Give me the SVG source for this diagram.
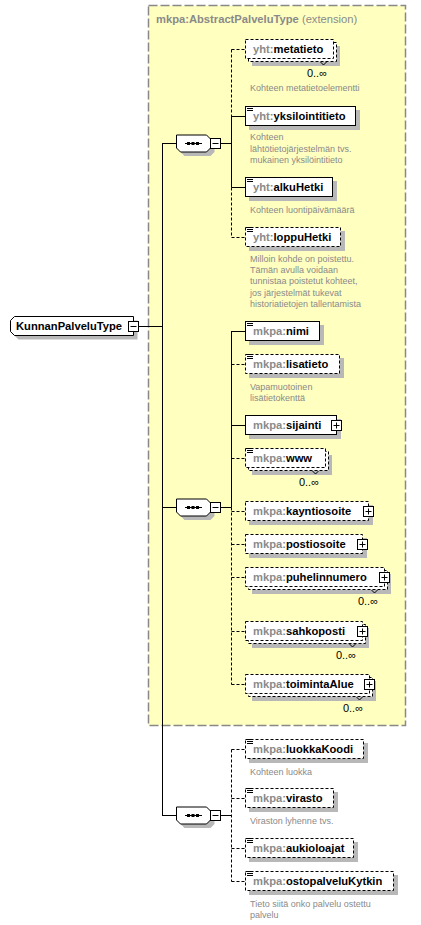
<svg xmlns="http://www.w3.org/2000/svg" width="421" height="925" viewBox="0 0 421 925">
<style>
text{font-family:"Liberation Sans",Arial,sans-serif}
.nm{font-size:11.2px;font-weight:bold;fill:#000}
.pf{fill:#8a8a8a}
.ann{font-size:9px;fill:#8a8a8a}
.mul{font-size:11px;fill:#000;text-anchor:end}
.box{fill:#fff;stroke:#000;stroke-width:1}
.opt{stroke-dasharray:3,2}
.sh{fill:#b8b8b8}
.ln{stroke:#000;stroke-width:1;fill:none}
.dl{stroke:#000;stroke-width:1;fill:none;stroke-dasharray:3,2}
.ic{stroke:#000;stroke-width:1;fill:none}
.pm{fill:#fff;stroke:#000;stroke-width:1}
</style>
<defs>
<polygon id="oct" points="176.5,-8 206.5,-8 210.5,-4 210.5,5 206.5,9 180.5,9 176.5,5 176.5,-4"/>
</defs>

<g id="extension">
<rect x="148.5" y="5.5" width="257" height="720" fill="#ffffc0" stroke="#888" stroke-width="1.5" stroke-dasharray="9,3"/>
<text x="156" y="23" font-size="11.2px"><tspan font-weight="bold" fill="#8a8a8a">mkpa:AbstractPalveluType</tspan><tspan fill="#8a8a8a"> (extension)</tspan></text>
</g>

<g id="connectors">
<path class="ln" d="M138.5,326.5H162.5M162.5,143V815"/>
<path class="ln" d="M162,143.5H176.5M162,507.5H176.5M162,815.5H176.5"/>
<path class="ln" d="M220.5,143.5H231.5M220.5,507.5H231.5M220.5,815.5H231.5"/>
<path class="dl" d="M231.5,49.5V116"/>
<path class="ln" d="M231.5,116V187.5"/>
<path class="dl" d="M231.5,187.5V237.5"/>
<path class="dl" d="M231.5,49.5H245M231.5,237.5H245"/>
<path class="ln" d="M231.5,116.5H245M231.5,187.5H245"/>
<path class="ln" d="M231.5,331V507.5"/>
<path class="dl" d="M231.5,507.5V684.5"/>
<path class="ln" d="M231.5,331.5H245M231.5,425.5H245"/>
<path class="dl" d="M231.5,364.5H245M231.5,458.5H245M231.5,511.5H245M231.5,544.5H245M231.5,577.5H245M231.5,631.5H245M231.5,684.5H245"/>
<path class="dl" d="M231.5,749.5V881.5"/>
<path class="dl" d="M231.5,749.5H245M231.5,798.5H245M231.5,848.5H245M231.5,881.5H245"/>
</g>

<g id="KunnanPalveluType">
<polygon class="sh" transform="translate(4,4)" points="14.5,316.5 133.5,316.5 133.5,335.5 14.5,335.5 10.5,331.5 10.5,320.5"/>
<polygon class="box" points="14.5,316.5 133.5,316.5 133.5,335.5 14.5,335.5 10.5,331.5 10.5,320.5"/>
<text class="nm" x="16" y="330">KunnanPalveluType</text>
<rect class="pm" x="128.5" y="321.5" width="10" height="10"/>
<path class="ln" d="M130.5,326.5H136.5"/>
</g>

<g id="sequence1" transform="translate(0,143)">
<use href="#oct" class="sh" transform="translate(4,4)"/>
<use href="#oct" class="box"/>
<path class="ln" d="M185,0.5H202"/>
<rect x="187" y="-1" width="3" height="3"/><rect x="191.5" y="-1" width="3" height="3"/><rect x="196" y="-1" width="3" height="3"/>
<rect class="pm" x="210.5" y="-4.5" width="10" height="10"/>
<path class="ln" d="M212.5,0.5H218.5"/>
</g>
<g id="sequence2" transform="translate(0,507)">
<use href="#oct" class="sh" transform="translate(4,4)"/>
<use href="#oct" class="box"/>
<path class="ln" d="M185,0.5H202"/>
<rect x="187" y="-1" width="3" height="3"/><rect x="191.5" y="-1" width="3" height="3"/><rect x="196" y="-1" width="3" height="3"/>
<rect class="pm" x="210.5" y="-4.5" width="10" height="10"/>
<path class="ln" d="M212.5,0.5H218.5"/>
</g>
<g id="sequence3" transform="translate(0,815)">
<use href="#oct" class="sh" transform="translate(4,4)"/>
<use href="#oct" class="box"/>
<path class="ln" d="M185,0.5H202"/>
<rect x="187" y="-1" width="3" height="3"/><rect x="191.5" y="-1" width="3" height="3"/><rect x="196" y="-1" width="3" height="3"/>
<rect class="pm" x="210.5" y="-4.5" width="10" height="10"/>
<path class="ln" d="M212.5,0.5H218.5"/>
</g>

<g id="metatieto" transform="translate(0,49)">
<rect class="sh" x="252" y="-3" width="88" height="20"/>
<rect class="box opt" x="248.5" y="-6.5" width="88" height="19"/>
<rect class="box opt" x="245.5" y="-9.5" width="88" height="19"/>
<text class="nm" x="253" y="4"><tspan class="pf">yht:</tspan>metatieto</text>
<polyline class="ln" points="320.5,13 323.5,16 326.5,13"/>
<text class="mul" x="327" y="28">0..∞</text>
<text class="ann" x="250" y="42">Kohteen metatietoelementti</text>
</g>

<g id="yksilointitieto" transform="translate(0,116)">
<rect class="sh" x="249" y="-6" width="111" height="20"/>
<rect class="box" x="245.5" y="-9.5" width="110" height="19"/>
<path class="ic" d="M247,-9.5h6M247,-7.5h6M247,-5.5h6"/>
<text class="nm" x="253" y="4"><tspan class="pf">yht:</tspan>yksilointitieto</text>
<text class="ann" x="250" y="24">Kohteen</text>
<text class="ann" x="250" y="35.5">lähtötietojärjestelmän tvs.</text>
<text class="ann" x="250" y="47">mukainen yksilöintitieto</text>
</g>

<g id="alkuHetki" transform="translate(0,187)">
<rect class="sh" x="249" y="-6" width="88" height="20"/>
<rect class="box" x="245.5" y="-9.5" width="87" height="19"/>
<path class="ic" d="M247,-9.5h6M247,-7.5h6M247,-5.5h6"/>
<text class="nm" x="253" y="4"><tspan class="pf">yht:</tspan>alkuHetki</text>
<text class="ann" x="250" y="26">Kohteen luontipäivämäärä</text>
</g>

<g id="loppuHetki" transform="translate(0,237)">
<rect class="sh" x="249" y="-6" width="96" height="20"/>
<rect class="box opt" x="245.5" y="-9.5" width="95" height="19"/>
<path class="ic" d="M247,-9.5h6M247,-7.5h6M247,-5.5h6"/>
<text class="nm" x="253" y="4"><tspan class="pf">yht:</tspan>loppuHetki</text>
<text class="ann" x="250" y="25">Milloin kohde on poistettu.</text>
<text class="ann" x="250" y="36.2">Tämän avulla voidaan</text>
<text class="ann" x="250" y="47.4">tunnistaa poistetut kohteet,</text>
<text class="ann" x="250" y="58.6">jos järjestelmät tukevat</text>
<text class="ann" x="250" y="69.8">historiatietojen tallentamista</text>
</g>

<g id="nimi" transform="translate(0,331)">
<rect class="sh" x="249" y="-6" width="75" height="20"/>
<rect class="box" x="245.5" y="-9.5" width="74" height="19"/>
<path class="ic" d="M247,-9.5h6M247,-7.5h6M247,-5.5h6"/>
<text class="nm" x="253" y="4"><tspan class="pf">mkpa:</tspan>nimi</text>
</g>

<g id="lisatieto" transform="translate(0,364)">
<rect class="sh" x="249" y="-6" width="95" height="20"/>
<rect class="box opt" x="245.5" y="-9.5" width="94" height="19"/>
<path class="ic" d="M247,-9.5h6M247,-7.5h6M247,-5.5h6"/>
<text class="nm" x="253" y="4"><tspan class="pf">mkpa:</tspan>lisatieto</text>
<text class="ann" x="250" y="26">Vapamuotoinen</text>
<text class="ann" x="250" y="37.2">lisätietokenttä</text>
</g>

<g id="sijainti" transform="translate(0,425)">
<rect class="sh" x="249" y="-6" width="92" height="20"/>
<rect class="box" x="245.5" y="-9.5" width="91" height="19"/>
<text class="nm" x="253" y="4"><tspan class="pf">mkpa:</tspan>sijainti</text>
<rect class="pm" x="331.5" y="-4.5" width="10" height="10"/>
<path class="ln" d="M333.5,0.5H339.5M336.5,-2.5V3.5"/>
</g>

<g id="www" transform="translate(0,458)">
<rect class="sh" x="252" y="-3" width="80" height="20"/>
<rect class="box opt" x="248.5" y="-6.5" width="80" height="19"/>
<rect class="box opt" x="245.5" y="-9.5" width="80" height="19"/>
<path class="ic" d="M247,-9.5h6M247,-7.5h6M247,-5.5h6"/>
<text class="nm" x="253" y="4"><tspan class="pf">mkpa:</tspan>www</text>
<polyline class="ln" points="312.5,13 315.5,16 318.5,13"/>
<text class="mul" x="319" y="28">0..∞</text>
</g>

<g id="kayntiosoite" transform="translate(0,511)">
<rect class="sh" x="249" y="-6" width="124" height="20"/>
<rect class="box opt" x="245.5" y="-9.5" width="123" height="19"/>
<text class="nm" x="253" y="4"><tspan class="pf">mkpa:</tspan>kayntiosoite</text>
<rect class="pm" x="363.5" y="-4.5" width="10" height="10"/>
<path class="ln" d="M365.5,0.5H371.5M368.5,-2.5V3.5"/>
</g>

<g id="postiosoite" transform="translate(0,544)">
<rect class="sh" x="249" y="-6" width="118" height="20"/>
<rect class="box opt" x="245.5" y="-9.5" width="117" height="19"/>
<text class="nm" x="253" y="4"><tspan class="pf">mkpa:</tspan>postiosoite</text>
<rect class="pm" x="357.5" y="-4.5" width="10" height="10"/>
<path class="ln" d="M359.5,0.5H365.5M362.5,-2.5V3.5"/>
</g>

<g id="puhelinnumero" transform="translate(0,577)">
<rect class="sh" x="252" y="-3" width="139" height="20"/>
<rect class="box opt" x="248.5" y="-6.5" width="139" height="19"/>
<rect class="box opt" x="245.5" y="-9.5" width="139" height="19"/>
<text class="nm" x="253" y="4"><tspan class="pf">mkpa:</tspan>puhelinnumero</text>
<rect class="pm" x="379.5" y="-4.5" width="10" height="10"/>
<path class="ln" d="M381.5,0.5H387.5M384.5,-2.5V3.5"/>
<polyline class="ln" points="371.5,13 374.5,16 377.5,13"/>
<text class="mul" x="378" y="28">0..∞</text>
</g>

<g id="sahkoposti" transform="translate(0,631)">
<rect class="sh" x="252" y="-3" width="117" height="20"/>
<rect class="box opt" x="248.5" y="-6.5" width="117" height="19"/>
<rect class="box opt" x="245.5" y="-9.5" width="117" height="19"/>
<text class="nm" x="253" y="4"><tspan class="pf">mkpa:</tspan>sahkoposti</text>
<rect class="pm" x="357.5" y="-4.5" width="10" height="10"/>
<path class="ln" d="M359.5,0.5H365.5M362.5,-2.5V3.5"/>
<polyline class="ln" points="349.5,13 352.5,16 355.5,13"/>
<text class="mul" x="356" y="28">0..∞</text>
</g>

<g id="toimintaAlue" transform="translate(0,684)">
<rect class="sh" x="252" y="-3" width="124" height="20"/>
<rect class="box opt" x="248.5" y="-6.5" width="124" height="19"/>
<rect class="box opt" x="245.5" y="-9.5" width="124" height="19"/>
<text class="nm" x="253" y="4"><tspan class="pf">mkpa:</tspan>toimintaAlue</text>
<rect class="pm" x="364.5" y="-4.5" width="10" height="10"/>
<path class="ln" d="M366.5,0.5H372.5M369.5,-2.5V3.5"/>
<polyline class="ln" points="356.5,13 359.5,16 362.5,13"/>
<text class="mul" x="363" y="28">0..∞</text>
</g>

<g id="luokkaKoodi" transform="translate(0,749)">
<rect class="sh" x="249" y="-6" width="119" height="20"/>
<rect class="box opt" x="245.5" y="-9.5" width="118" height="19"/>
<path class="ic" d="M247,-9.5h6M247,-7.5h6M247,-5.5h6"/>
<text class="nm" x="253" y="4"><tspan class="pf">mkpa:</tspan>luokkaKoodi</text>
<text class="ann" x="250" y="26">Kohteen luokka</text>
</g>

<g id="virasto" transform="translate(0,798)">
<rect class="sh" x="249" y="-6" width="89" height="20"/>
<rect class="box opt" x="245.5" y="-9.5" width="88" height="19"/>
<path class="ic" d="M247,-9.5h6M247,-7.5h6M247,-5.5h6"/>
<text class="nm" x="253" y="4"><tspan class="pf">mkpa:</tspan>virasto</text>
<text class="ann" x="250" y="26">Viraston lyhenne tvs.</text>
</g>

<g id="aukioloajat" transform="translate(0,848)">
<rect class="sh" x="249" y="-6" width="109" height="20"/>
<rect class="box opt" x="245.5" y="-9.5" width="108" height="19"/>
<path class="ic" d="M247,-9.5h6M247,-7.5h6M247,-5.5h6"/>
<text class="nm" x="253" y="4"><tspan class="pf">mkpa:</tspan>aukioloajat</text>
</g>

<g id="ostopalveluKytkin" transform="translate(0,881)">
<rect class="sh" x="249" y="-6" width="149" height="20"/>
<rect class="box opt" x="245.5" y="-9.5" width="148" height="19"/>
<path class="ic" d="M247,-9.5h6M247,-7.5h6M247,-5.5h6"/>
<text class="nm" x="253" y="4"><tspan class="pf">mkpa:</tspan>ostopalveluKytkin</text>
<text class="ann" x="250" y="26">Tieto siitä onko palvelu ostettu</text>
<text class="ann" x="250" y="37">palvelu</text>
</g>
</svg>
